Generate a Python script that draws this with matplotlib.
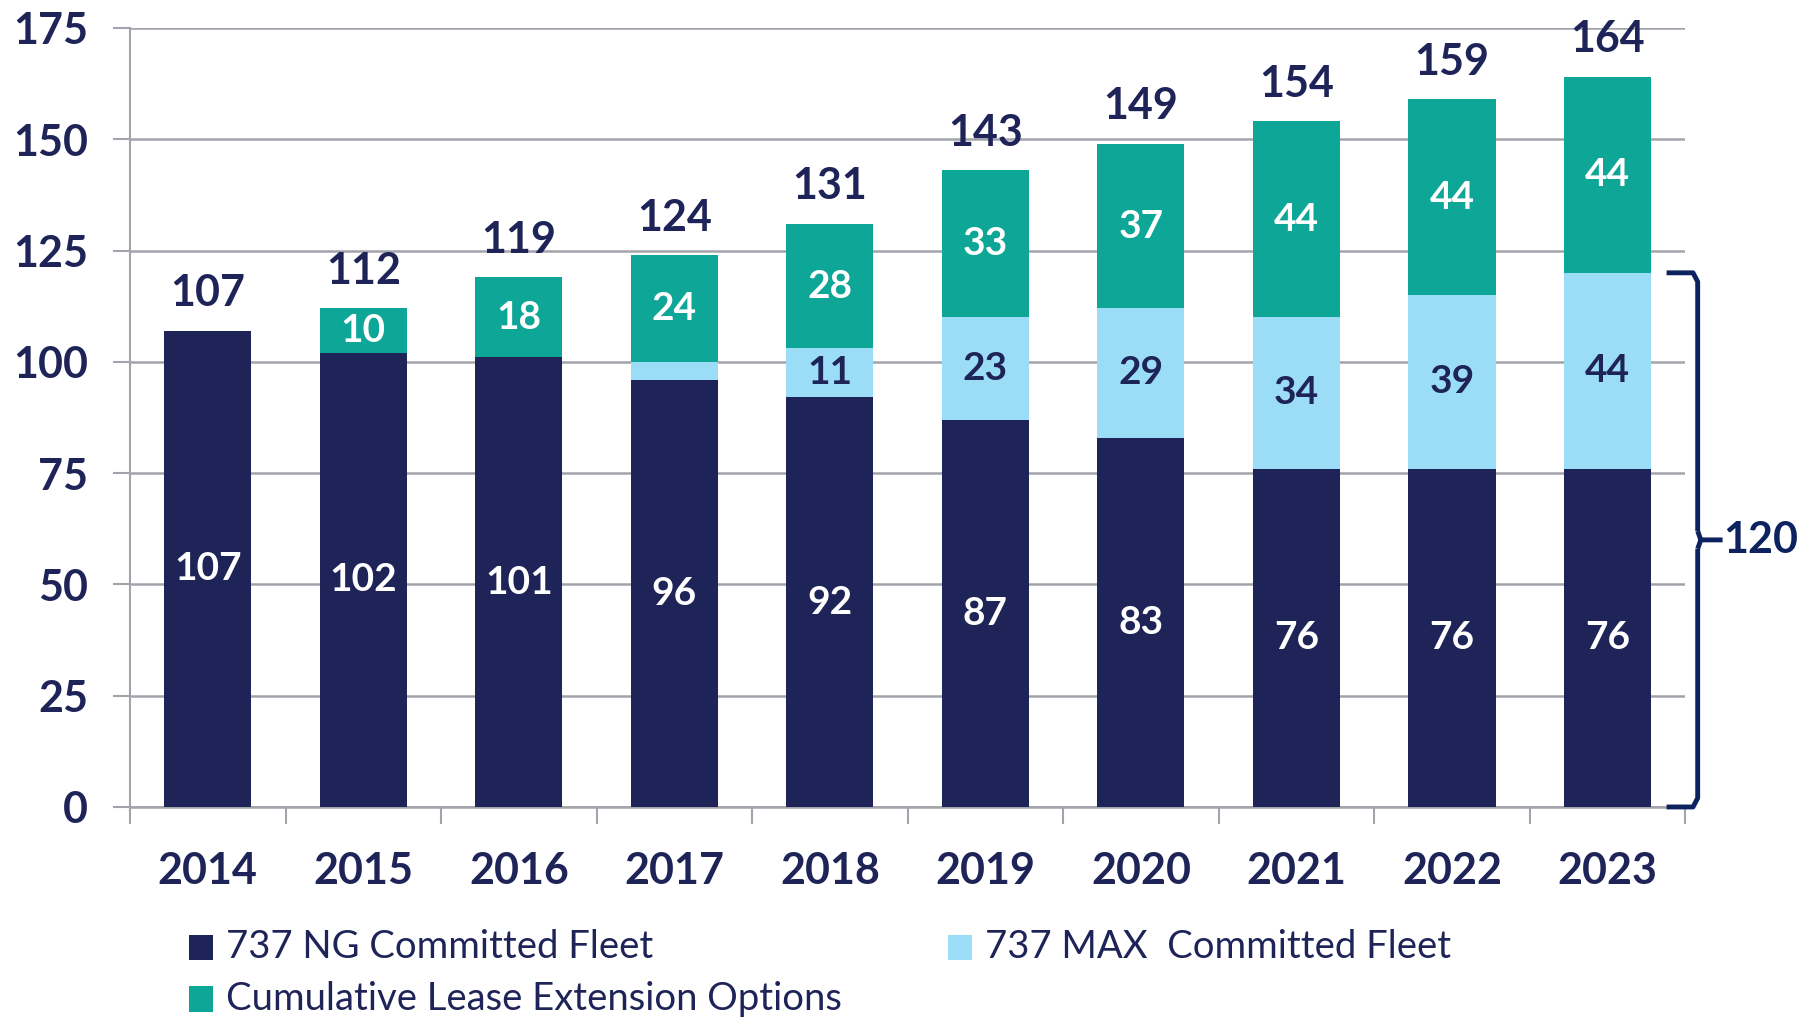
import numpy as np
import matplotlib.pyplot as plt
from matplotlib.patches import Rectangle

plt.rcParams['font.family'] = ['Lato', 'DejaVu Sans']

years = ['2014', '2015', '2016', '2017', '2018', '2019', '2020', '2021', '2022', '2023']
ng = [107, 102, 101, 96, 92, 87, 83, 76, 76, 76]
max_fleet = [0, 0, 0, 4, 11, 23, 29, 34, 39, 44]
lease = [0, 10, 18, 24, 28, 33, 37, 44, 44, 44]
committed_total = 120

navy = '#1E2458'
light = '#9BDDF6'
teal = '#0EA697'
grid_c = '#A3A3AC'

fig = plt.figure(figsize=(18.16, 10.18), dpi=100)
ax = fig.add_axes([0.0716, 0.2073, 0.8564, 0.7652])

x = np.arange(len(years))
w = 0.56
ng = np.array(ng)
max_fleet = np.array(max_fleet)
lease = np.array(lease)
totals = ng + max_fleet + lease

ax.bar(x, ng, w, color=navy, linewidth=0, zorder=3)
ax.bar(x, max_fleet, w, bottom=ng, color=light, linewidth=0, zorder=3)
ax.bar(x, lease, w, bottom=ng + max_fleet, color=teal, linewidth=0, zorder=3)

lab_font = dict(fontsize=28, fontweight='bold', ha='center', va='center', zorder=5)
for i in range(len(years)):
    ax.text(x[i], ng[i] / 2, str(ng[i]), color='white', **lab_font)
    if max_fleet[i] >= 10:
        ax.text(x[i], ng[i] + max_fleet[i] / 2, str(max_fleet[i]), color=navy, **lab_font)
    if lease[i] > 0:
        ax.text(x[i], ng[i] + max_fleet[i] + lease[i] / 2, str(lease[i]), color='white', **lab_font)
    ax.annotate(str(totals[i]), (x[i], totals[i]), xytext=(0, 27), textcoords='offset points',
                color=navy, fontsize=31, fontweight='bold', ha='center', va='center')

ax.set_xlim(-0.5, 9.5)
ax.set_ylim(0, 175)
ax.set_yticks(np.arange(0, 176, 25))
ax.yaxis.grid(True, color=grid_c, linewidth=1.8, zorder=0)
ax.set_axisbelow(True)
ax.tick_params(axis='y', length=12, width=1.5, color=grid_c, labelsize=31, labelcolor=navy, pad=18)
for t in ax.get_yticklabels():
    t.set_fontweight('bold')

ax.set_xticks(x)
ax.set_xticklabels(years, fontsize=31, fontweight='bold', color=navy)
ax.set_xticks(np.arange(-0.5, 10, 1), minor=True)
ax.tick_params(axis='x', which='major', length=0, pad=32)
ax.tick_params(axis='x', which='minor', length=12, width=1.5, color=grid_c)

for s in ['top', 'right']:
    ax.spines[s].set_visible(False)
ax.spines['left'].set_color(grid_c)
ax.spines['left'].set_linewidth(1.5)
ax.spines['bottom'].set_color(grid_c)
ax.spines['bottom'].set_linewidth(1.8)

# brace for committed fleet
bx0, bx1, tip = 9.38, 9.58, 9.74
brace_kw = dict(color='#0D2360', linewidth=3.5, clip_on=False, solid_capstyle='butt', zorder=6)
ax.plot([bx0, bx1 - 0.03, bx1, bx1], [committed_total, committed_total, committed_total - 2, committed_total / 2 + 2], **brace_kw)
ax.plot([bx0, bx1 - 0.03, bx1, bx1], [0, 0, 2, committed_total / 2 - 2], **brace_kw)
ax.plot([bx1, bx1 + 0.02, tip], [committed_total / 2 + 2, committed_total / 2, committed_total / 2], **brace_kw)
ax.plot([bx1, bx1 + 0.02], [committed_total / 2 - 2, committed_total / 2], **brace_kw)
ax.text(tip + 0.005, committed_total / 2, str(committed_total), color='#0D2360', fontsize=31,
        fontweight='bold', ha='left', va='center', clip_on=False)

# legend
leg_items = [('737 NG Committed Fleet', navy, 0.104, 0.0695),
             ('737 MAX  Committed Fleet', light, 0.522, 0.0695),
             ('Cumulative Lease Extension Options', teal, 0.104, 0.0185)]
for name, c, lx, ly in leg_items:
    fig.patches.append(Rectangle((lx, ly - 0.0125), 0.0135, 0.025, transform=fig.transFigure,
                                 facecolor=c, edgecolor='none'))
    fig.text(lx + 0.0205, ly, name, fontsize=27.5, color=navy, ha='left', va='center')

fig.savefig('out.png', dpi=100)
